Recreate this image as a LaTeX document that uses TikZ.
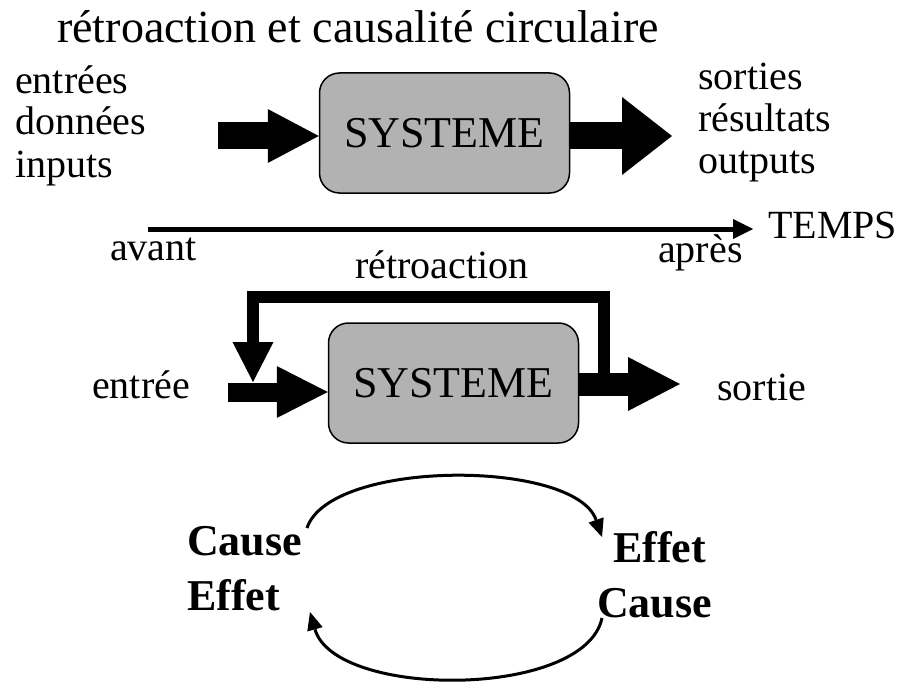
\documentclass[tikz,border=0pt]{standalone}
\usepackage{fontspec}
\setmainfont{Liberation Serif}
\usetikzlibrary{arrows.meta,positioning}

\begin{document}
\begin{tikzpicture}[x=1pt,y=-1pt,
  sysbox/.style={draw,line width=1.5pt,fill=black!30,rounded corners=20pt,
    minimum width=250pt,minimum height=120pt,inner sep=0pt,
    font=\fontsize{44}{50}\selectfont},
  lbl/.style={anchor=base west,inner sep=0pt,font=\fontsize{40}{46}\selectfont},
  blbl/.style={lbl,font=\fontsize{44}{50}\selectfont\bfseries},
  pipe/.style n args={3}{line width=#1,
    -{Triangle[length=#2,width=#3,line width=0pt]}},
  loopline/.style={line width=3pt,-{Triangle[length=18pt,width=16pt,line width=0pt]}}]
\useasboundingbox (0,0) rectangle (897,682);

% titre
\node[lbl,font=\fontsize{46}{52}\selectfont] (title) at (57,43) {rétroaction et causalité circulaire};

% systeme simple
\node[lbl] (in1) at (15,94)  {entrées};
\node[lbl] (in2) at (15,135) {données};
\node[lbl] (in3) at (15,177) {inputs};
\node[lbl] (out1) at (698,90)  {sorties};
\node[lbl] (out2) at (698,132) {résultats};
\node[lbl] (out3) at (698,173) {outputs};
\node[sysbox] (sys1) at (444.5,133) {SYSTEME};
\coordinate (a1) at (218,136);
\coordinate (b1) at (672,136);
\draw[pipe={27pt}{51pt}{54pt}] (a1) -- (a1 -| sys1.west);
\draw[pipe={27pt}{50pt}{78pt}] (sys1.east |- b1) -- (b1);

% axe du temps
\coordinate (t0) at (148,229);
\coordinate (t1) at (753,229);
\node[lbl] (temps) at (768,238) {TEMPS};
\node[lbl] (avant) at (110,260) {avant};
\node[lbl] (apres) at (658,262) {après};
\draw[line width=5pt,-{Triangle[length=20pt,width=20pt,line width=0pt]}] (t0) -- (t1);

% systeme avec retroaction
\node[lbl] (retro) at (355,278) {rétroaction};
\node[lbl] (entree) at (92,398) {entrée};
\node[lbl] (sortie) at (717,400) {sortie};
\node[sysbox] (sys2) at (453.5,383) {SYSTEME};
\coordinate (a2) at (228,392);
\coordinate (b2) at (680,384);
\coordinate (fb0) at (604,384);
\coordinate (fb1) at (604,297);
\coordinate (fb2) at (253,297);
\coordinate (fb3) at (253,382);
\draw[pipe={12pt}{40pt}{41pt},line join=miter] (fb0) -- (fb1) -- (fb2) -- (fb3);
\draw[pipe={19pt}{51pt}{52pt}] (a2) -- (a2 -| sys2.west);
\draw[pipe={23pt}{52pt}{54pt}] (sys2.east |- b2) -- (b2);

% causalite circulaire
\node[blbl] (cause1) at (187,555) {Cause};
\node[blbl] (effet1) at (187,610) {Effet};
\node[blbl] (effet2) at (613,562) {Effet};
\node[blbl] (cause2) at (597,617) {Cause};
\coordinate (p0) at (307,528);
\coordinate (p1) at (602,537);
\coordinate (q0) at (602,618);
\coordinate (q1) at (310,612);
\draw[loopline] (p0) .. controls (330,459) and (575,459) .. (p1);
\draw[loopline] (q0) .. controls (585,699) and (335,699) .. (q1);
\end{tikzpicture}
\end{document}
